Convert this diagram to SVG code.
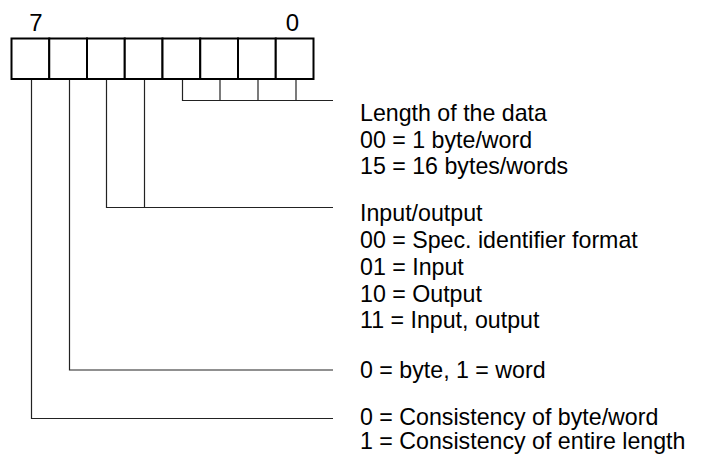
<svg xmlns="http://www.w3.org/2000/svg" width="703" height="455" viewBox="0 0 703 455">
<style>
.t{font-family:"Liberation Sans",Arial,sans-serif;font-size:23.2px;fill:#000}
.b{font-family:"Liberation Sans",Arial,sans-serif;font-size:24px;fill:#000;text-anchor:middle}
.cell{fill:#fff;stroke:#000;stroke-width:2}
.c{fill:none;stroke:#222;stroke-width:1.2}
</style>
<rect width="703" height="455" fill="#fff"/>
<g id="register">
<text class="b" x="36" y="30.5">7</text>
<text class="b" x="292.5" y="30.5">0</text>
<rect class="cell" x="11.5" y="38.5" width="37.75" height="40.5"/>
<rect class="cell" x="49.25" y="38.5" width="37.75" height="40.5"/>
<rect class="cell" x="87" y="38.5" width="37.75" height="40.5"/>
<rect class="cell" x="124.75" y="38.5" width="37.75" height="40.5"/>
<rect class="cell" x="162.5" y="38.5" width="37.75" height="40.5"/>
<rect class="cell" x="200.25" y="38.5" width="37.75" height="40.5"/>
<rect class="cell" x="238" y="38.5" width="37.75" height="40.5"/>
<rect class="cell" x="275.75" y="38.5" width="37.75" height="40.5"/>
</g>
<g id="connectors">
<polyline class="c" points="182.5,80 182.5,100.5 333,100.5"/>
<line class="c" x1="220" y1="80" x2="220" y2="100.5"/>
<line class="c" x1="258" y1="80" x2="258" y2="100.5"/>
<line class="c" x1="296" y1="80" x2="296" y2="100.5"/>
<polyline class="c" points="106.5,80 106.5,207.5 333,207.5"/>
<line class="c" x1="144.5" y1="80" x2="144.5" y2="207.5"/>
<polyline class="c" points="69.5,80 69.5,370 333,370"/>
<polyline class="c" points="31.5,80 31.5,418.5 333,418.5"/>
</g>
<g id="label-length">
<text class="t" x="360" y="121">Length of the data</text>
<text class="t" x="360" y="147.5">00 = 1 byte/word</text>
<text class="t" x="360" y="174">15 = 16 bytes/words</text>
</g>
<g id="label-io">
<text class="t" x="360" y="221">Input/output</text>
<text class="t" x="360" y="248">00 = Spec. identifier format</text>
<text class="t" x="360" y="274.8">01 = Input</text>
<text class="t" x="360" y="301.5">10 = Output</text>
<text class="t" x="360" y="328">11 = Input, output</text>
</g>
<g id="label-byteword">
<text class="t" x="360" y="378">0 = byte, 1 = word</text>
</g>
<g id="label-consistency">
<text class="t" x="360" y="424.5">0 = Consistency of byte/word</text>
<text class="t" x="360" y="449">1 = Consistency of entire length</text>
</g>
</svg>
